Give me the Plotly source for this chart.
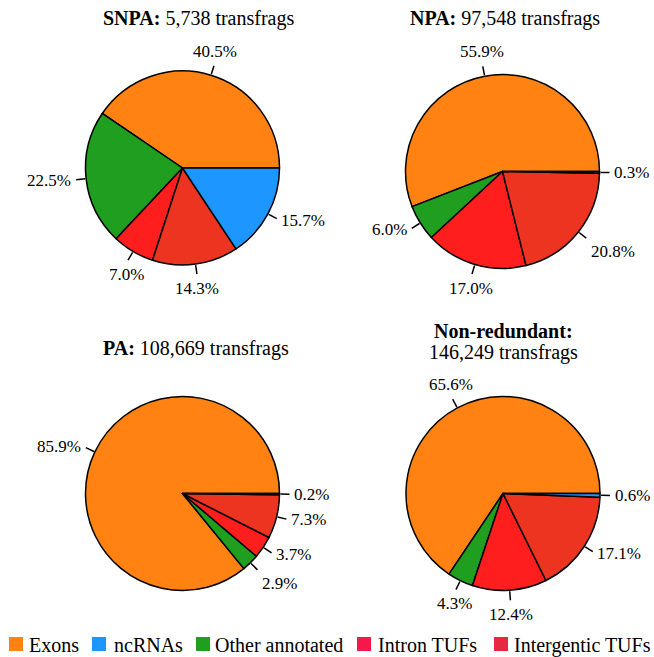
import math
import plotly.graph_objects as go

# ---------------- data ----------------
categories = ["Exons", "Other annotated", "Intron TUFs", "Intergenic TUFs", "ncRNAs"]
snpa_values = [40.5, 22.5, 7.0, 14.3, 15.7]
npa_values = [55.9, 6.0, 17.0, 20.8, 0.3]
pa_values = [85.9, 2.9, 3.7, 7.3, 0.2]
nr_values = [65.6, 4.3, 12.4, 17.1, 0.6]

panel_titles = [
    ["<b>SNPA:</b> 5,738 transfrags"],
    ["<b>NPA:</b> 97,548 transfrags"],
    ["<b>PA:</b> 108,669 transfrags"],
    ["<b>Non-redundant:</b>", "146,249 transfrags"],
]

legend_labels = ["Exons", "ncRNAs", "Other annotated", "Intron TUFs", "Intergentic TUFs"]

# ---------------- style ----------------
W, H = 654, 657
R = 97
FONT = "Liberation Serif, Times New Roman, serif"
slice_colors = ["#FF8212", "#1F9E1F", "#FF1E1E", "#EC3420", "#1E96FF"]
legend_colors = ["#FF8212", "#1E96FF", "#1F9E1F", "#F5184A", "#E82840"]

panels = [
    (snpa_values, 182.5, 168.0, (198, [18])),
    (npa_values, 502.5, 171.5, (505, [18])),
    (pa_values, 182.5, 493.5, (196, [348])),
    (nr_values, 503.0, 493.5, (503, [331, 352])),
]

def px(x):
    return x / W

def py(y):
    return 1 - y / H

fig = go.Figure()
shapes = []
annotations = []

for i, (vals, cx, cy, tpos) in enumerate(panels):
    total = sum(vals)
    # plotly: for counterclockwise pies the first slice ends at `rotation`;
    # shift so that the first slice starts at 3 o'clock and runs counterclockwise
    rot = 90 - vals[0] / total * 360.0
    fig.add_trace(go.Pie(
        labels=categories,
        values=vals,
        sort=False,
        direction="counterclockwise",
        rotation=rot,
        marker=dict(colors=slice_colors, line=dict(color="black", width=1.5)),
        textinfo="none",
        hoverinfo="label+percent",
        showlegend=False,
        domain=dict(x=[px(cx - R), px(cx + R)], y=[py(cy + R), py(cy - R)]),
    ))
    start = 0.0
    for v in vals:
        ang = start + v / total * 180.0
        start += v / total * 360.0
        a = math.radians(ang)
        c, s = math.cos(a), math.sin(a)
        x0, y0 = cx + c * (R + 1), cy - s * (R + 1)
        x1, y1 = cx + c * (R + 10), cy - s * (R + 10)
        shapes.append(dict(type="line", xref="paper", yref="paper",
                           x0=px(x0), y0=py(y0), x1=px(x1), y1=py(y1),
                           line=dict(color="black", width=1.5)))
        lx, ly = cx + c * (R + 13), cy - s * (R + 13)
        if abs(s) >= 0.85:
            xa = "center"
        else:
            xa = "left" if c > 0 else "right"
        if s > 0.6:
            ya = "bottom"
        elif s < -0.6:
            ya = "top"
        else:
            ya = "middle"
        annotations.append(dict(x=px(lx), y=py(ly), xref="paper", yref="paper",
                                text=f"{v:.1f}%", showarrow=False,
                                xanchor=xa, yanchor=ya,
                                font=dict(family=FONT, size=17, color="black")))
    tx, tys = tpos
    for line_text, ty in zip(panel_titles[i], tys):
        annotations.append(dict(x=px(tx), y=py(ty), xref="paper", yref="paper",
                                text=line_text, showarrow=False,
                                xanchor="center", yanchor="middle",
                                font=dict(family=FONT, size=20, color="black")))

# manual legend row
legend_sq_x = [9, 92, 196, 357, 494]
legend_txt_x = [27, 112, 213, 376, 512]
for lab, col, sx, tx in zip(legend_labels, legend_colors, legend_sq_x, legend_txt_x):
    shapes.append(dict(type="rect", xref="paper", yref="paper",
                       x0=px(sx), x1=px(sx + 14), y0=py(651), y1=py(637),
                       fillcolor=col, line=dict(width=0)))
    annotations.append(dict(x=px(tx), y=py(645), xref="paper", yref="paper",
                            text=lab, showarrow=False, xanchor="left", yanchor="middle",
                            font=dict(family=FONT, size=20, color="black")))

fig.update_layout(
    width=W, height=H,
    margin=dict(l=0, r=0, t=0, b=0),
    paper_bgcolor="white", plot_bgcolor="white",
    shapes=shapes, annotations=annotations,
    showlegend=False,
)

fig.write_html(
    "out.html",
    config={"displayModeBar": False},
    post_script="document.body.style.margin='0px';document.documentElement.style.overflow='hidden';",
)
